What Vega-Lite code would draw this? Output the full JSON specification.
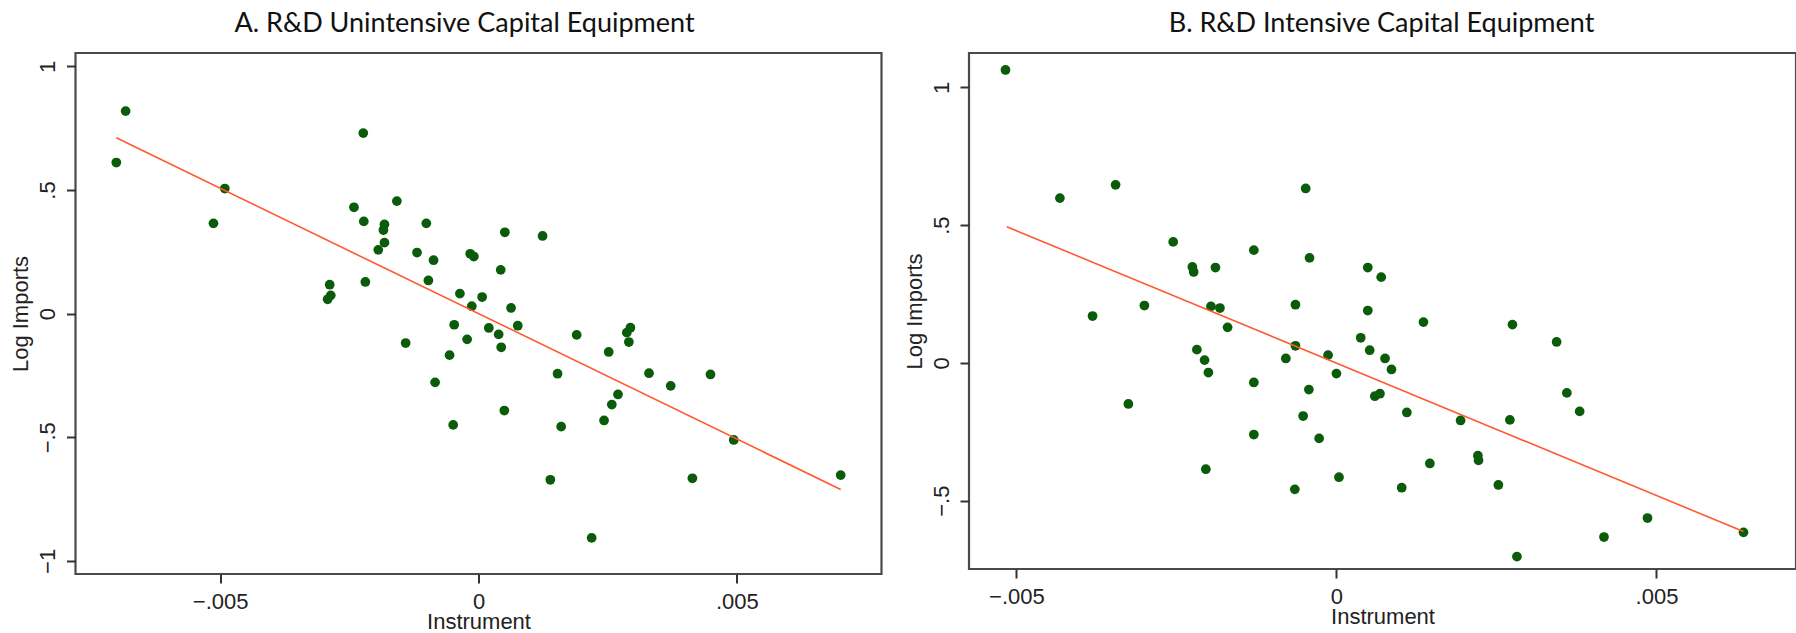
{
  "$schema": "https://vega.github.io/schema/vega-lite/v6.json",
  "background": "white",
  "padding": {"left": 7.5, "top": 8, "right": 0, "bottom": 0},
  "spacing": 17.5,
  "config": {
    "view": {"stroke": "#4a4a4a", "strokeWidth": 2.2},
    "axis": {"grid": false, "domain": false, "tickSize": 9, "tickWidth": 2, "tickColor": "#333333", "labelFont": "Liberation Sans", "labelFontSize": 22, "labelColor": "#222222", "titleFont": "Liberation Sans", "titleFontSize": 22, "titleFontWeight": "normal", "titleColor": "#222222"},
    "axisX": {"labelPadding": 8.5, "titleBaseline": "alphabetic", "titleY": 54},
    "axisY": {"labelAngle": 270, "labelAlign": "center", "labelBaseline": "alphabetic", "labelPadding": 12, "titleBaseline": "alphabetic", "titleX": -48},
    "title": {"font": "Lato", "fontSize": 27, "fontWeight": "normal", "color": "#111111", "baseline": "alphabetic", "offset": 15}
  },
  "datasets": {
    "a": [
      {"x": -0.00683, "y": 0.819}, {"x": -0.00701, "y": 0.611}, {"x": -0.00491, "y": 0.506}, {"x": -0.00513, "y": 0.365},
      {"x": -0.00223, "y": 0.730}, {"x": -0.00241, "y": 0.430}, {"x": -0.00158, "y": 0.455}, {"x": -0.00222, "y": 0.373},
      {"x": -0.00182, "y": 0.361}, {"x": -0.00184, "y": 0.338}, {"x": -0.00101, "y": 0.365}, {"x": 0.00051, "y": 0.329},
      {"x": 0.00124, "y": 0.314}, {"x": -0.00182, "y": 0.287}, {"x": -0.00194, "y": 0.258}, {"x": -0.00119, "y": 0.247},
      {"x": -0.00087, "y": 0.216}, {"x": -0.00016, "y": 0.242}, {"x": -0.00009, "y": 0.231}, {"x": 0.00043, "y": 0.177},
      {"x": -0.00097, "y": 0.134}, {"x": -0.00219, "y": 0.128}, {"x": -0.00288, "y": 0.117}, {"x": -0.00286, "y": 0.074},
      {"x": -0.00292, "y": 0.058}, {"x": -0.00036, "y": 0.081}, {"x": 0.00007, "y": 0.067}, {"x": -0.00013, "y": 0.030},
      {"x": 0.00063, "y": 0.023}, {"x": -0.00047, "y": -0.045}, {"x": 0.00020, "y": -0.058}, {"x": 0.00039, "y": -0.084},
      {"x": 0.00076, "y": -0.049}, {"x": 0.00190, "y": -0.086}, {"x": 0.00287, "y": -0.077}, {"x": 0.00294, "y": -0.057},
      {"x": 0.00291, "y": -0.115}, {"x": -0.00141, "y": -0.119}, {"x": -0.00022, "y": -0.104}, {"x": 0.00044, "y": -0.136},
      {"x": -0.00056, "y": -0.168}, {"x": 0.00252, "y": -0.155}, {"x": -0.00084, "y": -0.278}, {"x": 0.00153, "y": -0.243},
      {"x": 0.00330, "y": -0.241}, {"x": 0.00449, "y": -0.246}, {"x": 0.00372, "y": -0.292}, {"x": 0.00270, "y": -0.327},
      {"x": 0.00258, "y": -0.368}, {"x": 0.00050, "y": -0.392}, {"x": 0.00243, "y": -0.432}, {"x": -0.00049, "y": -0.450},
      {"x": 0.00160, "y": -0.457}, {"x": 0.00494, "y": -0.511}, {"x": 0.00139, "y": -0.672}, {"x": 0.00414, "y": -0.666},
      {"x": 0.00701, "y": -0.653}, {"x": 0.00219, "y": -0.907}
    ],
    "fa": [{"x": -0.00701, "y": 0.711}, {"x": 0.00701, "y": -0.711}],
    "b": [
      {"x": -0.00517, "y": 1.063}, {"x": -0.00432, "y": 0.598}, {"x": -0.00345, "y": 0.646}, {"x": -0.00048, "y": 0.633},
      {"x": -0.00255, "y": 0.439}, {"x": -0.00129, "y": 0.409}, {"x": -0.00042, "y": 0.381}, {"x": -0.00225, "y": 0.348},
      {"x": -0.00223, "y": 0.330}, {"x": -0.00189, "y": 0.346}, {"x": 0.00049, "y": 0.346}, {"x": 0.00070, "y": 0.311},
      {"x": -0.00300, "y": 0.208}, {"x": -0.00381, "y": 0.170}, {"x": -0.00196, "y": 0.205}, {"x": -0.00182, "y": 0.199},
      {"x": -0.00064, "y": 0.211}, {"x": 0.00049, "y": 0.190}, {"x": 0.00136, "y": 0.148}, {"x": 0.00275, "y": 0.139},
      {"x": -0.00170, "y": 0.129}, {"x": 0.00344, "y": 0.076}, {"x": 0.00038, "y": 0.091}, {"x": -0.00064, "y": 0.062},
      {"x": -0.00218, "y": 0.048}, {"x": 0.00052, "y": 0.046}, {"x": -0.00206, "y": 0.010}, {"x": -0.00079, "y": 0.016},
      {"x": -0.00013, "y": 0.028}, {"x": 0.00076, "y": 0.016}, {"x": 0.00086, "y": -0.024}, {"x": -0.00200, "y": -0.035},
      {"x": 0.00000, "y": -0.039}, {"x": -0.00129, "y": -0.071}, {"x": -0.00043, "y": -0.097}, {"x": 0.00060, "y": -0.121},
      {"x": 0.00068, "y": -0.112}, {"x": 0.00360, "y": -0.109}, {"x": -0.00325, "y": -0.149}, {"x": 0.00110, "y": -0.180},
      {"x": 0.00380, "y": -0.176}, {"x": -0.00052, "y": -0.193}, {"x": 0.00194, "y": -0.209}, {"x": 0.00271, "y": -0.207},
      {"x": -0.00129, "y": -0.260}, {"x": -0.00027, "y": -0.274}, {"x": 0.00221, "y": -0.337}, {"x": 0.00222, "y": -0.354},
      {"x": 0.00146, "y": -0.365}, {"x": -0.00204, "y": -0.386}, {"x": 0.00004, "y": -0.415}, {"x": 0.00102, "y": -0.453},
      {"x": 0.00253, "y": -0.443}, {"x": -0.00065, "y": -0.459}, {"x": 0.00486, "y": -0.563}, {"x": 0.00418, "y": -0.632},
      {"x": 0.00636, "y": -0.615}, {"x": 0.00282, "y": -0.703}
    ],
    "fb": [{"x": -0.00515, "y": 0.494}, {"x": 0.00636, "y": -0.612}]
  },
  "hconcat": [
    {
      "title": {"text": "A. R&D Unintensive Capital Equipment", "dx": -14},
      "width": 806,
      "height": 521,
      "layer": [
        {
          "data": {"name": "a"},
          "mark": {"type": "circle", "size": 95, "color": "#0a5c0a", "opacity": 1},
          "encoding": {
            "x": {"field": "x", "type": "quantitative", "title": "Instrument", "scale": {"domain": [-0.0078, 0.0078], "nice": false, "zero": false}, "axis": {"values": [-0.005, 0, 0.005], "labelExpr": "replace(format(datum.value, '~g'), '0.', '.')"}},
            "y": {"field": "y", "type": "quantitative", "title": "Log Imports", "scale": {"domain": [-1.053, 1.054], "nice": false, "zero": false}, "axis": {"values": [-1, -0.5, 0, 0.5, 1], "labelExpr": "replace(format(datum.value, '~g'), '0.', '.')"}}
          }
        },
        {
          "data": {"name": "fa"},
          "mark": {"type": "line", "color": "#ff5a2e", "strokeWidth": 1.6},
          "encoding": {
            "x": {"field": "x", "type": "quantitative"},
            "y": {"field": "y", "type": "quantitative"}
          }
        }
      ]
    },
    {
      "title": {"text": "B. R&D Intensive Capital Equipment", "dx": -1},
      "width": 827,
      "height": 516,
      "layer": [
        {
          "data": {"name": "b"},
          "mark": {"type": "circle", "size": 95, "color": "#0a5c0a", "opacity": 1},
          "encoding": {
            "x": {"field": "x", "type": "quantitative", "title": "Instrument", "scale": {"domain": [-0.00574, 0.00718], "nice": false, "zero": false}, "axis": {"values": [-0.005, 0, 0.005], "labelExpr": "replace(format(datum.value, '~g'), '0.', '.')"}},
            "y": {"field": "y", "type": "quantitative", "title": "Log Imports", "scale": {"domain": [-0.748, 1.1245], "nice": false, "zero": false}, "axis": {"values": [-0.5, 0, 0.5, 1], "labelExpr": "replace(format(datum.value, '~g'), '0.', '.')"}}
          }
        },
        {
          "data": {"name": "fb"},
          "mark": {"type": "line", "color": "#ff5a2e", "strokeWidth": 1.6},
          "encoding": {
            "x": {"field": "x", "type": "quantitative"},
            "y": {"field": "y", "type": "quantitative"}
          }
        }
      ]
    }
  ]
}
